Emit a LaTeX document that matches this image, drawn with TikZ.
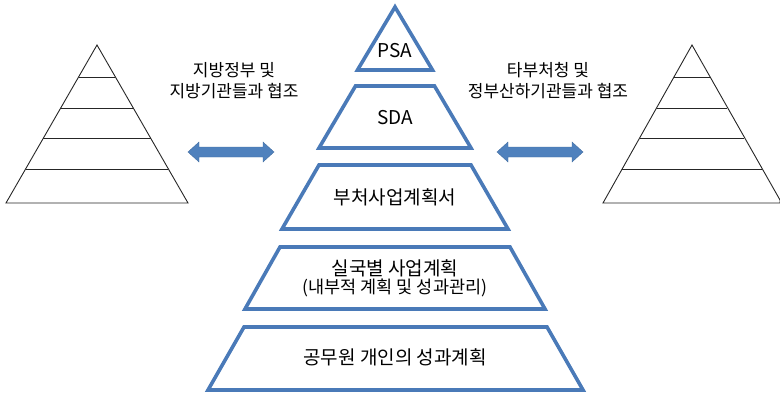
\documentclass[tikz,border=0pt]{standalone}
\usepackage{fontspec}
\usetikzlibrary{calc}
\setmainfont{Noto Sans CJK KR}
\definecolor{layerblue}{HTML}{4A7AB8}
\definecolor{arrowblue}{HTML}{4F81BD}
\begin{document}
\begin{tikzpicture}[x=1pt,y=-1pt,
  layer/.style={draw=layerblue,line width=3.6pt,line join=miter},
  sidepyr/.style={draw=black!85,line width=0.9pt},
  lbl/.style={font=\fontsize{19}{22}\selectfont,inner sep=0pt,align=center},
  sublbl/.style={font=\fontsize{17.5}{20}\selectfont,inner sep=0pt,align=center},
  sidelbl/.style={font=\fontsize{17}{21}\selectfont,inner sep=0pt,align=center},
  dblarrow/.style={fill=arrowblue,draw=arrowblue!85!black,line width=0.4pt,line join=miter}]
\useasboundingbox (0,0) rectangle (780,396);
% central pyramid layers
\draw[layer] (395,7) -- (432.5,70) -- (357.5,70) -- cycle;
\draw[layer] (355.5,86) -- (434.5,86) -- (471,148) -- (319,148) -- cycle;
\draw[layer] (319,165) -- (471,165) -- (508,229) -- (282,229) -- cycle;
\draw[layer] (280,247) -- (510,247) -- (545,309) -- (245,309) -- cycle;
\draw[layer] (244,327) -- (547,327) -- (583,390) -- (208,390) -- cycle;
% labels
\node[lbl] (psa) at (395,51) {PSA};
\node[lbl] (sda) at (395,118) {SDA};
\node[lbl] (dept) at (395,197) {부처사업계획서};
\node[lbl] (bureau) at (395,268) {실국별 사업계획};
\node[sublbl] (bureausub) at (395,288) {(내부적 계획 및 성과관리)};
\node[lbl] (indiv) at (395,357) {공무원 개인의 성과계획};
% left pyramid
\draw[sidepyr] (97,45) -- (188,203) -- (6,203) -- cycle;
\foreach \y in {77,108,138,169}{
  \draw[sidepyr] ({97-91*(\y-45)/158},\y) -- ({97+91*(\y-45)/158},\y);
}
% right pyramid
\draw[sidepyr] (692,45) -- (780,200) -- (780,203) -- (603,203) -- cycle;
\foreach \y in {77,108,138,169}{
  \draw[sidepyr] ({692-89*(\y-45)/158},\y) -- ({692+89*(\y-45)/158},\y);
}
% side labels
\node[sidelbl] (lefttext) at (234,81) {지방정부 및\\지방기관들과 협조};
\node[sidelbl] (righttext) at (548,81) {타부처청 및\\정부산하기관들과 협조};
% double arrows
\coordinate (la1) at (188,152);
\coordinate (la2) at (274,152);
\fill[dblarrow] (la1) -- ++(11,-10) -- ++(0,5) -- ($(la2)+(-11,-5)$) -- ++(0,-5) -- (la2) -- ++(-11,10) -- ++(0,-5) -- ($(la1)+(11,5)$) -- ++(0,5) -- cycle;
\coordinate (ra1) at (497,152);
\coordinate (ra2) at (583,152);
\fill[dblarrow] (ra1) -- ++(11,-10) -- ++(0,5) -- ($(ra2)+(-11,-5)$) -- ++(0,-5) -- (ra2) -- ++(-11,10) -- ++(0,-5) -- ($(ra1)+(11,5)$) -- ++(0,5) -- cycle;
\end{tikzpicture}
\end{document}
